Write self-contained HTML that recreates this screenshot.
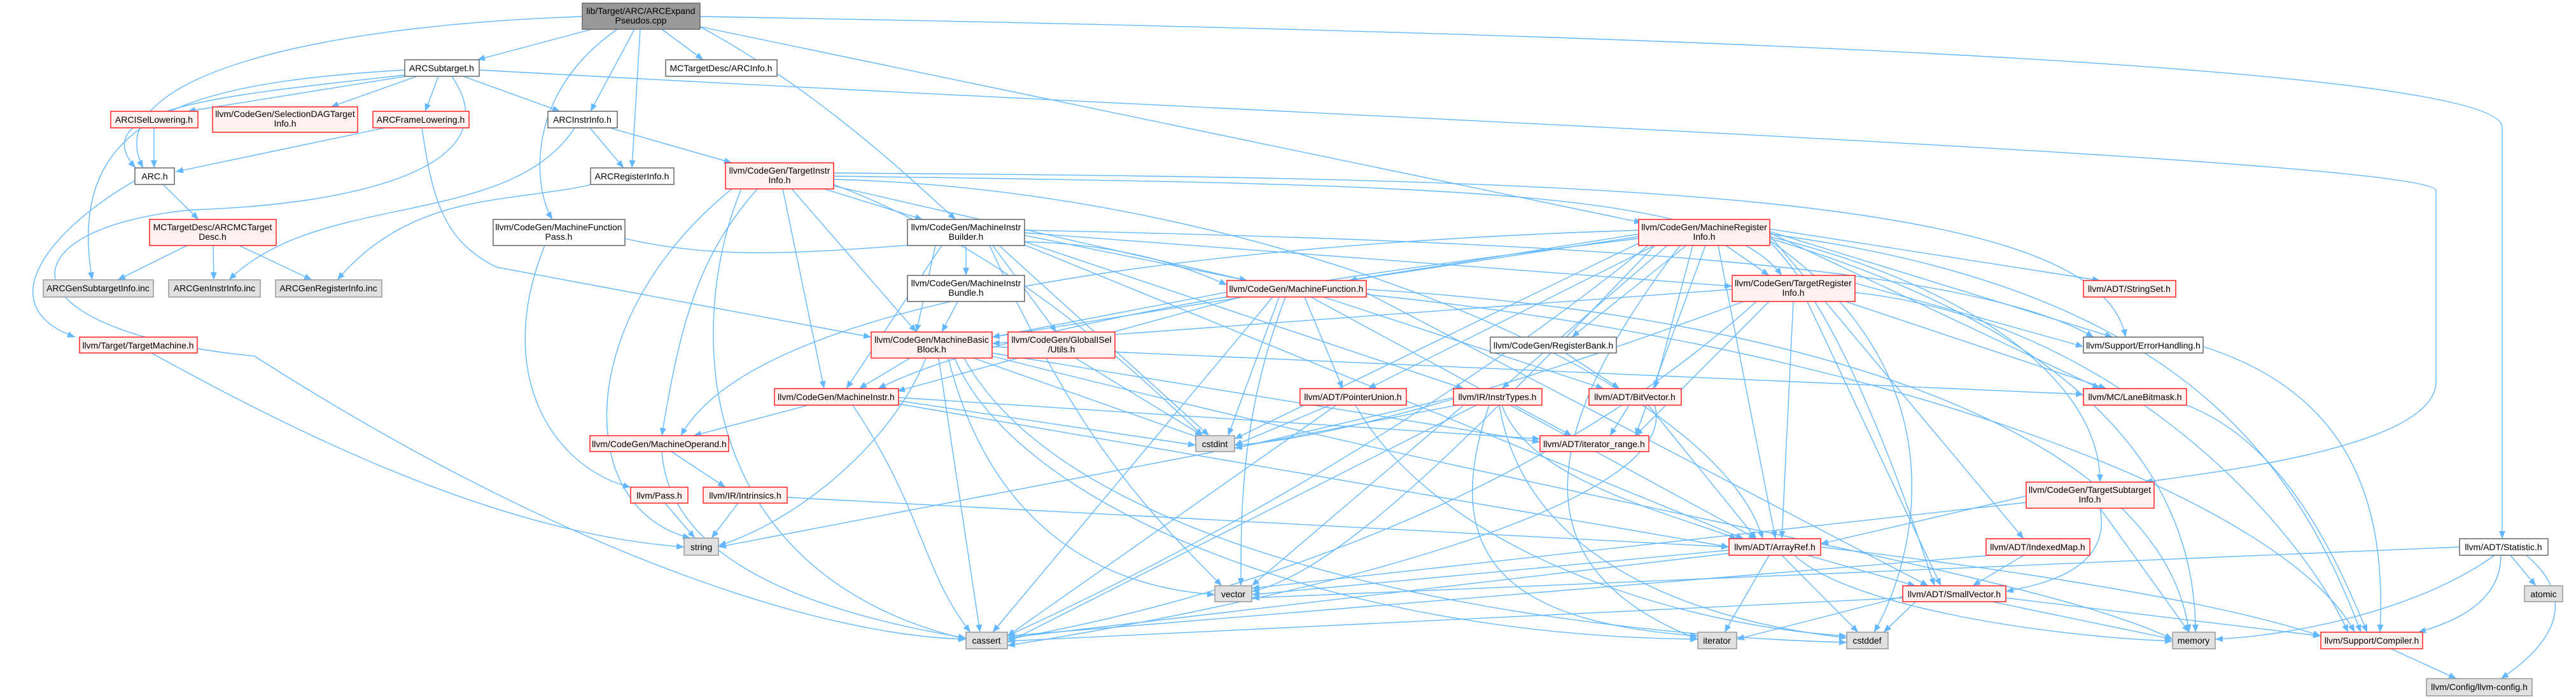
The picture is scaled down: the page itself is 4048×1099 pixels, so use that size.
<!DOCTYPE html>
<html><head><meta charset="utf-8"><style>
html,body{margin:0;padding:0;background:#fff}
svg{display:block}
text{font-family:"Liberation Sans",Arial,sans-serif;font-size:14px;fill:#000;text-anchor:middle}
.e{fill:none;stroke:#63b8ff;stroke-width:1.4;marker-end:url(#ah)}
.w{fill:#fff;stroke:#666;stroke-width:1.5}
.r{fill:#fff0f0;stroke:#ff2020;stroke-width:1.5}
.g{fill:#e0e0e0;stroke:#999;stroke-width:1.5}
.t{fill:#999;stroke:#666;stroke-width:1.5}
</style></head><body>
<svg width="4048" height="1099" viewBox="0 0 4048 1099" xmlns="http://www.w3.org/2000/svg">
<defs><marker id="ah" markerUnits="userSpaceOnUse" markerWidth="13" markerHeight="10" refX="12" refY="5" orient="auto"><path d="M0,0 L12,5 L0,10 z" fill="#63b8ff"/></marker></defs>
<g>
<path class="e" d="M930 46 L750 94"/>
<path class="e" d="M915 26 C500 40,150 120,225 264"/>
<path class="e" d="M997 46 L928 175"/>
<path class="e" d="M1006 46 L993 264"/>
<path class="e" d="M970 46 C820 150,840 300,868 345"/>
<path class="e" d="M1040 46 L1105 94"/>
<path class="e" d="M1100 42 C1300 150,1450 300,1502 345"/>
<path class="e" d="M1100 42 L2580 350"/>
<path class="e" d="M1100 26 C2500 50,3932 100,3932 200 L3932 847"/>
<path class="e" d="M753 110 C2000 180,3828 250,3828 300 L3828 600 C3828 700,3500 740,3370 758"/>
<path class="e" d="M650 118 L295 175"/>
<path class="e" d="M655 120 L520 168"/>
<path class="e" d="M689 120 L668 175"/>
<path class="e" d="M728 120 L880 175"/>
<path class="e" d="M636 110 C300 130,100 180,145 440"/>
<path class="e" d="M636 118 C350 150,130 170,213 264"/>
<path class="e" d="M710 120 C800 250,600 320,300 330 C0 360,0 520,400 560 C900 880,1300 1000,1518 1005"/>
<path class="e" d="M663 201 C680 320,700 380,780 420 L1369 530"/>
<path class="e" d="M242 201 L242 264"/>
<path class="e" d="M605 201 L276 270"/>
<path class="e" d="M256 290 L312 345"/>
<path class="e" d="M212 284 C80 360,-20 480,118 530"/>
<path class="e" d="M294 386 L185 440"/>
<path class="e" d="M335 386 L336 440"/>
<path class="e" d="M376 386 L490 440"/>
<path class="e" d="M927 201 L980 264"/>
<path class="e" d="M958 201 L1150 256"/>
<path class="e" d="M903 201 C800 360,500 300,360 440"/>
<path class="e" d="M930 290 C800 320,650 300,530 440"/>
<path class="e" d="M856 386 C770 600,880 740,991 766"/>
<path class="e" d="M982 375 C1300 450,1600 300,1928 448"/>
<path class="e" d="M238 555 C500 700,800 840,1075 860"/>
<path class="e" d="M1295 297 L1450 345"/>
<path class="e" d="M1244 297 L1440 522"/>
<path class="e" d="M1230 297 L1295 611"/>
<path class="e" d="M1190 297 C1100 400,1070 500,1040 685"/>
<path class="e" d="M1165 297 C1080 500,1080 900,1518 1005"/>
<path class="e" d="M1310 290 C1600 400,1800 600,1890 685"/>
<path class="e" d="M1300 290 L1960 441"/>
<path class="e" d="M1310 277 C2300 290,2700 300,2800 433"/>
<path class="e" d="M1310 272 C2500 280,3300 300,3340 530"/>
<path class="e" d="M1310 282 C2000 300,2700 600,2770 847"/>
<path class="e" d="M1150 297 C900 500,900 800,1085 846"/>
<path class="e" d="M1518 386 L1518 433"/>
<path class="e" d="M1470 386 L1440 522"/>
<path class="e" d="M1480 386 L1330 611"/>
<path class="e" d="M1610 370 L1960 441"/>
<path class="e" d="M1560 386 L1660 522"/>
<path class="e" d="M1570 386 L1900 685"/>
<path class="e" d="M1610 380 L2300 611"/>
<path class="e" d="M1610 362 C2500 380,3100 420,3290 530"/>
<path class="e" d="M1610 366 L2722 450"/>
<path class="e" d="M1555 386 C1700 700,1800 800,1920 921"/>
<path class="e" d="M1610 385 L2740 847"/>
<path class="e" d="M1505 474 L1480 522"/>
<path class="e" d="M1935 458 L1559 530"/>
<path class="e" d="M1950 467 L1410 615"/>
<path class="e" d="M2010 467 L1930 685"/>
<path class="e" d="M2020 467 C1950 650,1950 800,1950 921"/>
<path class="e" d="M2060 467 L2760 847"/>
<path class="e" d="M2080 467 L2520 611"/>
<path class="e" d="M2050 467 L2110 611"/>
<path class="e" d="M2147 460 L3030 921"/>
<path class="e" d="M2147 455 C2900 500,3400 700,3440 994"/>
<path class="e" d="M2147 463 C3000 550,3600 800,3700 994"/>
<path class="e" d="M2000 467 L1560 994"/>
<path class="e" d="M2575 372 L2120 441"/>
<path class="e" d="M2712 386 L2780 433"/>
<path class="e" d="M2650 386 L2470 530"/>
<path class="e" d="M2575 368 L1559 530"/>
<path class="e" d="M2575 375 C2200 420,1600 500,1380 611"/>
<path class="e" d="M2575 362 C2000 380,1200 450,1070 685"/>
<path class="e" d="M2580 380 L1940 690"/>
<path class="e" d="M2600 386 L2150 611"/>
<path class="e" d="M2620 386 L2360 611"/>
<path class="e" d="M2660 386 L2600 611"/>
<path class="e" d="M2680 386 L2570 685"/>
<path class="e" d="M2700 386 L2790 847"/>
<path class="e" d="M2781 380 C2900 500,3000 800,3040 921"/>
<path class="e" d="M2781 370 L3180 847"/>
<path class="e" d="M2781 366 L3300 611"/>
<path class="e" d="M2781 360 L3300 441"/>
<path class="e" d="M2781 364 L3320 530"/>
<path class="e" d="M2781 372 C3100 450,3300 600,3300 758"/>
<path class="e" d="M2781 375 C3200 500,3450 700,3450 994"/>
<path class="e" d="M2781 368 C3400 450,3600 700,3710 994"/>
<path class="e" d="M2781 378 C3100 600,3000 900,2945 994"/>
<path class="e" d="M2600 386 C2300 700,2100 900,1967 930"/>
<path class="e" d="M2590 386 C2200 700,1800 900,1583 1000"/>
<path class="e" d="M2640 386 C2400 700,2400 900,2668 1005"/>
<path class="e" d="M2722 455 L1559 540"/>
<path class="e" d="M2740 474 C2400 600,2100 690,1940 700"/>
<path class="e" d="M2818 474 L2800 847"/>
<path class="e" d="M2840 474 L3050 921"/>
<path class="e" d="M2780 474 L2570 685"/>
<path class="e" d="M2900 474 L3310 611"/>
<path class="e" d="M2915 445 L3274 545"/>
<path class="e" d="M2915 460 C3300 500,3600 800,3690 994"/>
<path class="e" d="M2760 474 C2400 800,1900 950,1583 1005"/>
<path class="e" d="M2460 555 L2545 611"/>
<path class="e" d="M1430 563 L1350 611"/>
<path class="e" d="M1530 563 L1890 690"/>
<path class="e" d="M1475 563 L1540 994"/>
<path class="e" d="M1455 563 C1400 700,1250 820,1129 858"/>
<path class="e" d="M1500 563 C1600 800,2100 1000,2668 1005"/>
<path class="e" d="M1515 563 C1700 900,2500 1000,2902 1010"/>
<path class="e" d="M1490 563 C1550 800,1700 920,1909 935"/>
<path class="e" d="M1559 555 L2420 695"/>
<path class="e" d="M1559 545 L3274 620"/>
<path class="e" d="M1559 560 C2500 800,3200 900,3414 1005"/>
<path class="e" d="M1690 563 L1890 685"/>
<path class="e" d="M1270 637 L1090 685"/>
<path class="e" d="M1412 630 L1879 700"/>
<path class="e" d="M1412 625 L2420 690"/>
<path class="e" d="M1340 637 C1450 800,1450 900,1525 994"/>
<path class="e" d="M1412 635 L2717 860"/>
<path class="e" d="M1055 710 L1140 766"/>
<path class="e" d="M1040 710 C1050 850,1200 950,1518 1003"/>
<path class="e" d="M1045 791 L1092 846"/>
<path class="e" d="M1160 791 L1118 846"/>
<path class="e" d="M1237 782 L2717 860"/>
<path class="e" d="M2090 637 L1940 700"/>
<path class="e" d="M2100 637 L1583 1000"/>
<path class="e" d="M2130 637 C2250 850,2600 980,2902 1000"/>
<path class="e" d="M2284 625 L1940 705"/>
<path class="e" d="M2380 637 L2470 685"/>
<path class="e" d="M2360 637 C2400 750,2600 800,2730 847"/>
<path class="e" d="M2320 637 L1583 1010"/>
<path class="e" d="M2290 637 L1129 860"/>
<path class="e" d="M2300 637 L1967 921"/>
<path class="e" d="M2340 637 C2250 900,2400 980,2668 1000"/>
<path class="e" d="M2356 637 C2400 900,2700 980,2902 1003"/>
<path class="e" d="M2560 637 L2530 685"/>
<path class="e" d="M2590 637 L2760 847"/>
<path class="e" d="M2600 637 C2650 800,2000 950,1583 1015"/>
<path class="e" d="M2780 873 L2710 994"/>
<path class="e" d="M2800 873 L2920 994"/>
<path class="e" d="M2840 873 L3010 921"/>
<path class="e" d="M2717 870 L1583 1003"/>
<path class="e" d="M2820 873 C2900 950,3200 1000,3414 1008"/>
<path class="e" d="M2861 860 C3200 900,3500 950,3647 1000"/>
<path class="e" d="M2717 865 L1967 935"/>
<path class="e" d="M3184 780 L2861 855"/>
<path class="e" d="M3300 799 C3320 900,3200 920,3152 930"/>
<path class="e" d="M3300 799 L3440 994"/>
<path class="e" d="M3184 790 L1967 925"/>
<path class="e" d="M3180 873 L3100 921"/>
<path class="e" d="M3130 873 L1583 1000"/>
<path class="e" d="M2990 940 L1583 1008"/>
<path class="e" d="M2990 938 L2729 1005"/>
<path class="e" d="M3010 946 L2960 994"/>
<path class="e" d="M3130 946 L3414 1005"/>
<path class="e" d="M3152 940 L3647 1000"/>
<path class="e" d="M3945 873 L3985 921"/>
<path class="e" d="M3930 873 C3930 950,3850 980,3800 994"/>
<path class="e" d="M3970 873 C4060 950,4000 1020,3930 1067"/>
<path class="e" d="M3920 873 C3800 960,3600 1000,3481 1005"/>
<path class="e" d="M3865 860 L1967 940"/>
<path class="e" d="M3757 1020 L3860 1067"/>
<path class="e" d="M3436 637 C3600 700,3680 900,3720 994"/>
<path class="e" d="M3462 545 C3700 620,3750 800,3740 994"/>
</g>
<g>
<rect class="t" x="915" y="5" width="185" height="41"/><text x="1007" y="22">lib/Target/ARC/ARCExpand</text><text x="1007" y="37">Pseudos.cpp</text>
<rect class="w" x="636" y="94" width="117" height="26"/><text x="694" y="112">ARCSubtarget.h</text>
<rect class="r" x="174" y="175" width="137" height="26"/><text x="242" y="193">ARCISelLowering.h</text>
<rect class="r" x="334" y="168" width="228" height="40"/><text x="448" y="184">llvm/CodeGen/SelectionDAGTarget</text><text x="448" y="199">Info.h</text>
<rect class="r" x="586" y="175" width="151" height="26"/><text x="661" y="193">ARCFrameLowering.h</text>
<rect class="w" x="861" y="175" width="109" height="26"/><text x="915" y="193">ARCInstrInfo.h</text>
<rect class="w" x="212" y="264" width="62" height="26"/><text x="243" y="282">ARC.h</text>
<rect class="w" x="928" y="264" width="131" height="26"/><text x="993" y="282">ARCRegisterInfo.h</text>
<rect class="r" x="235" y="345" width="199" height="41"/><text x="334" y="362">MCTargetDesc/ARCMCTarget</text><text x="334" y="377">Desc.h</text>
<rect class="w" x="775" y="345" width="207" height="41"/><text x="878" y="362">llvm/CodeGen/MachineFunction</text><text x="878" y="377">Pass.h</text>
<rect class="g" x="68" y="440" width="173" height="27"/><text x="154" y="458">ARCGenSubtargetInfo.inc</text>
<rect class="g" x="265" y="440" width="144" height="27"/><text x="337" y="458">ARCGenInstrInfo.inc</text>
<rect class="g" x="433" y="440" width="167" height="27"/><text x="516" y="458">ARCGenRegisterInfo.inc</text>
<rect class="r" x="125" y="530" width="185" height="25"/><text x="217" y="548">llvm/Target/TargetMachine.h</text>
<rect class="w" x="1046" y="94" width="175" height="26"/><text x="1133" y="112">MCTargetDesc/ARCInfo.h</text>
<rect class="r" x="1140" y="256" width="170" height="41"/><text x="1225" y="273">llvm/CodeGen/TargetInstr</text><text x="1225" y="288">Info.h</text>
<rect class="w" x="1426" y="345" width="184" height="41"/><text x="1518" y="362">llvm/CodeGen/MachineInstr</text><text x="1518" y="377">Builder.h</text>
<rect class="w" x="1426" y="433" width="184" height="41"/><text x="1518" y="450">llvm/CodeGen/MachineInstr</text><text x="1518" y="465">Bundle.h</text>
<rect class="r" x="1928" y="441" width="219" height="26"/><text x="2037" y="459">llvm/CodeGen/MachineFunction.h</text>
<rect class="r" x="1369" y="522" width="190" height="41"/><text x="1464" y="539">llvm/CodeGen/MachineBasic</text><text x="1464" y="554">Block.h</text>
<rect class="r" x="1584" y="522" width="168" height="41"/><text x="1668" y="539">llvm/CodeGen/GlobalISel</text><text x="1668" y="554">/Utils.h</text>
<rect class="r" x="2575" y="345" width="206" height="41"/><text x="2678" y="362">llvm/CodeGen/MachineRegister</text><text x="2678" y="377">Info.h</text>
<rect class="r" x="2722" y="433" width="193" height="41"/><text x="2818" y="450">llvm/CodeGen/TargetRegister</text><text x="2818" y="465">Info.h</text>
<rect class="w" x="2342" y="530" width="198" height="25"/><text x="2441" y="548">llvm/CodeGen/RegisterBank.h</text>
<rect class="r" x="3274" y="441" width="145" height="26"/><text x="3346" y="459">llvm/ADT/StringSet.h</text>
<rect class="w" x="3274" y="530" width="188" height="25"/><text x="3368" y="548">llvm/Support/ErrorHandling.h</text>
<rect class="r" x="1217" y="611" width="195" height="26"/><text x="1314" y="629">llvm/CodeGen/MachineInstr.h</text>
<rect class="r" x="927" y="685" width="218" height="25"/><text x="1036" y="703">llvm/CodeGen/MachineOperand.h</text>
<rect class="r" x="991" y="766" width="90" height="25"/><text x="1036" y="784">llvm/Pass.h</text>
<rect class="r" x="1105" y="766" width="132" height="25"/><text x="1171" y="784">llvm/IR/Intrinsics.h</text>
<rect class="g" x="1075" y="846" width="54" height="27"/><text x="1102" y="865">string</text>
<rect class="g" x="1879" y="685" width="61" height="25"/><text x="1909" y="703">cstdint</text>
<rect class="g" x="1909" y="921" width="58" height="25"/><text x="1938" y="939">vector</text>
<rect class="g" x="1518" y="994" width="65" height="26"/><text x="1550" y="1012">cassert</text>
<rect class="r" x="2043" y="611" width="167" height="26"/><text x="2126" y="629">llvm/ADT/PointerUnion.h</text>
<rect class="r" x="2284" y="611" width="139" height="26"/><text x="2353" y="629">llvm/IR/InstrTypes.h</text>
<rect class="r" x="2497" y="611" width="145" height="26"/><text x="2569" y="629">llvm/ADT/BitVector.h</text>
<rect class="r" x="2420" y="685" width="171" height="25"/><text x="2505" y="703">llvm/ADT/iterator_range.h</text>
<rect class="r" x="2717" y="847" width="144" height="26"/><text x="2789" y="865">llvm/ADT/ArrayRef.h</text>
<rect class="g" x="2668" y="994" width="61" height="26"/><text x="2698" y="1012">iterator</text>
<rect class="g" x="2902" y="994" width="65" height="26"/><text x="2934" y="1012">cstddef</text>
<rect class="r" x="3274" y="611" width="162" height="26"/><text x="3355" y="629">llvm/MC/LaneBitmask.h</text>
<rect class="r" x="3184" y="758" width="201" height="41"/><text x="3284" y="775">llvm/CodeGen/TargetSubtarget</text><text x="3284" y="790">Info.h</text>
<rect class="r" x="3121" y="847" width="163" height="26"/><text x="3202" y="865">llvm/ADT/IndexedMap.h</text>
<rect class="r" x="2990" y="921" width="162" height="25"/><text x="3071" y="939">llvm/ADT/SmallVector.h</text>
<rect class="w" x="3865" y="847" width="139" height="26"/><text x="3934" y="865">llvm/ADT/Statistic.h</text>
<rect class="g" x="3967" y="921" width="60" height="25"/><text x="3997" y="939">atomic</text>
<rect class="g" x="3414" y="994" width="67" height="26"/><text x="3447" y="1012">memory</text>
<rect class="r" x="3647" y="994" width="160" height="26"/><text x="3727" y="1012">llvm/Support/Compiler.h</text>
<rect class="g" x="3813" y="1067" width="166" height="27"/><text x="3896" y="1085">llvm/Config/llvm-config.h</text>
</g>
</svg>
</body></html>
